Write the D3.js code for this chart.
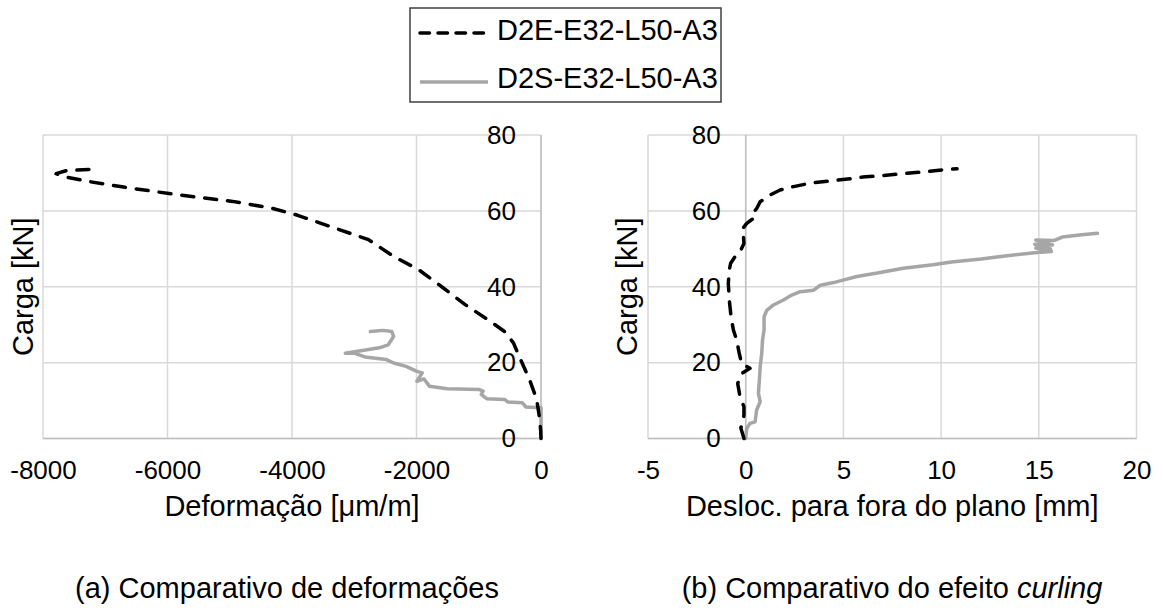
<!DOCTYPE html>
<html>
<head>
<meta charset="utf-8">
<script src="https://cdn.jsdelivr.net/npm/d3@7"></script>
<style>
  body { margin: 0; background: #fff; }
  svg { display: block; }
  text { font-family: Arial, "Liberation Sans", Helvetica, sans-serif; fill: #000; }
</style>
</head>
<body>
<svg id="chart" width="1163" height="614"></svg>
<script>
// Series names
const seriesNames = ["D2E-E32-L50-A3", "D2S-E32-L50-A3"];

// Tick values
const loadTicks = [0, 20, 40, 60, 80];
const strainTicks = [-8000, -6000, -4000, -2000, 0];
const dispTicks = [-5, 0, 5, 10, 15, 20];

// (a) strain [µm/m] vs load [kN]
const d2eStrain = [
  [0, 0], [-5, 2], [-20, 5], [-69, 10.3], [-184, 15.5], [-328, 20.8], [-443, 25.2],
  [-586, 28.2], [-816, 30.9], [-1218, 35.3], [-1563, 39.6], [-1966, 44.5], [-2368, 48],
  [-2770, 52.4], [-3230, 55], [-3920, 58.9], [-4322, 60.7], [-4954, 62.5], [-5816, 64.2],
  [-6678, 66.2], [-7253, 67.7], [-7626, 68.9], [-7790, 69.8], [-7626, 70.6], [-7167, 71]
];
const d2sStrain = [
  [0, 0], [0, 8.1], [-241, 8.3], [-299, 9.4], [-529, 9.6], [-586, 10.3], [-874, 10.5],
  [-960, 11.6], [-931, 12.5], [-989, 12.9], [-1506, 13.1], [-1793, 13.8], [-1879, 15.7],
  [-1994, 15.1], [-1908, 17.3], [-1994, 17.7], [-2167, 19.0], [-2368, 19.9], [-2483, 20.8],
  [-2828, 21.5], [-3000, 22.5], [-3144, 22.5], [-2943, 23.0], [-2598, 23.9], [-2454, 24.7],
  [-2368, 26.9], [-2397, 28.2], [-2540, 28.5], [-2741, 28.2]
];

// (b) out-of-plane displacement [mm] vs load [kN]
const d2eDisp = [
  [-0.09, 0], [-0.25, 2.8], [-0.15, 4.1], [-0.09, 6.3], [-0.09, 8.4], [-0.29, 11],
  [-0.41, 14.5], [-0.21, 17.1], [0.22, 18.5], [-0.21, 19.8], [-0.33, 22.4], [-0.46, 25.9],
  [-0.63, 28.6], [-0.75, 32.1], [-0.84, 36.5], [-0.89, 40.9], [-0.84, 44.4], [-0.77, 46.2],
  [-0.55, 47.9], [-0.29, 49.2], [-0.09, 51.4], [-0.12, 53.6], [-0.21, 54.9], [0.05, 56.7],
  [0.39, 58], [0.31, 58.9], [0.57, 60.7], [0.74, 62.4], [1.25, 64.2], [1.76, 65.5],
  [2.45, 66.4], [3.3, 67.3], [4.84, 68.2], [5.6, 68.6], [5.98, 68.9], [6.74, 69.2],
  [8.25, 69.9], [9.39, 70.4], [10.06, 70.8], [10.82, 71.1]
];
const d2sDisp = [
  [0, 0], [0.05, 2.6], [0.22, 4], [0.48, 4.4], [0.56, 7.5], [0.74, 9.7], [0.65, 11.9],
  [0.7, 15.4], [0.74, 18.9], [0.82, 22.4], [0.86, 25.9], [0.94, 28.6], [0.94, 32.1],
  [1.08, 33.8], [1.42, 35.2], [1.93, 36.5], [2.36, 37.8], [2.79, 38.7], [3.48, 39.1],
  [3.82, 40.4], [4.5, 41.1], [5.03, 41.8], [5.69, 42.7], [6.74, 43.6], [8.06, 44.9],
  [9.58, 45.8], [10.53, 46.5], [12.05, 47.3], [13.38, 48.2], [14.9, 49], [15.65, 49.3],
  [14.85, 50.2], [15.6, 50.0], [14.8, 51.2], [15.7, 51.0], [14.85, 52.3], [15.8, 52.2],
  [16.2, 53.1], [17.2, 53.7], [18.0, 54.1]
];

const svg = d3.select("#chart");

const BLACK = "#000000";
const GRAY = "#a6a6a6";
const GRID = "#d9d9d9";
const AXIS = "#bfbfbf";

const panels = [
  {
    left: 43, right: 541, xDomain: [-8000, 0], xTicks: strainTicks,
    dashed: d2eStrain, solid: d2sStrain,
    xTitle: "Deformação [μm/m]", yTitleX: 33,
    caption: [{ t: "(a) Comparativo de deformações" }], captionX: 287
  },
  {
    left: 648, right: 1136.5, xDomain: [-5, 20], xTicks: dispTicks,
    dashed: d2eDisp, solid: d2sDisp,
    xTitle: "Desloc. para fora do plano [mm]", yTitleX: 637,
    caption: [{ t: "(b) Comparativo do efeito " }, { t: "curling", italic: true }], captionX: 892
  }
];

const plotTop = 135, plotBottom = 438.5;
const plainNumber = d => String(d);

panels.forEach(p => {
  const x = d3.scaleLinear().domain(p.xDomain).range([p.left, p.right]);
  const y = d3.scaleLinear().domain([0, 80]).range([plotBottom, plotTop]);
  const g = svg.append("g");

  // gridlines
  g.selectAll("line.vgrid").data(p.xTicks).join("line")
    .attr("x1", d => x(d)).attr("x2", d => x(d))
    .attr("y1", y(0)).attr("y2", y(80))
    .attr("stroke", GRID).attr("stroke-width", 1.5);
  g.selectAll("line.hgrid").data(loadTicks).join("line")
    .attr("x1", x(p.xDomain[0])).attr("x2", x(p.xDomain[1]))
    .attr("y1", d => y(d)).attr("y2", d => y(d))
    .attr("stroke", GRID).attr("stroke-width", 1.5);

  // axis lines through the origin
  g.append("line").attr("x1", x(0)).attr("x2", x(0)).attr("y1", y(0)).attr("y2", y(80))
    .attr("stroke", AXIS).attr("stroke-width", 1.5);
  g.append("line").attr("x1", x(p.xDomain[0])).attr("x2", x(p.xDomain[1]))
    .attr("y1", y(0)).attr("y2", y(0))
    .attr("stroke", AXIS).attr("stroke-width", 1.5);

  // x axis tick labels
  const xa = g.append("g").attr("transform", `translate(0,${y(0)})`)
    .call(d3.axisBottom(x).tickValues(p.xTicks).tickSize(0).tickPadding(22).tickFormat(plainNumber));
  xa.select(".domain").remove();
  xa.attr("font-family", null).attr("font-size", null);
  xa.selectAll("text").attr("font-size", 26).style("fill", "#000");

  // y axis tick labels, crossing at x = 0
  const ya = g.append("g").attr("transform", `translate(${x(0)},0)`)
    .call(d3.axisLeft(y).tickValues(loadTicks).tickSize(0).tickPadding(25).tickFormat(plainNumber));
  ya.select(".domain").remove();
  ya.attr("font-family", null).attr("font-size", null);
  ya.selectAll("text").attr("font-size", 26).style("fill", "#000");

  // series
  const line = d3.line().x(d => x(d[0])).y(d => y(d[1]));
  g.append("path").datum(p.solid).attr("d", line)
    .attr("fill", "none").attr("stroke", GRAY).attr("stroke-width", 3.5)
    .attr("stroke-linejoin", "round").attr("stroke-linecap", "round");
  g.append("path").datum(p.dashed).attr("d", line)
    .attr("fill", "none").attr("stroke", BLACK).attr("stroke-width", 3.5)
    .attr("stroke-dasharray", "12 11").attr("stroke-linecap", "round")
    .attr("stroke-linejoin", "round");

  // axis titles
  g.append("text").attr("x", (p.left + p.right) / 2).attr("y", 516)
    .attr("text-anchor", "middle").attr("font-size", 29).text(p.xTitle);
  g.append("text")
    .attr("transform", `translate(${p.yTitleX},${(plotTop + plotBottom) / 2}) rotate(-90)`)
    .attr("text-anchor", "middle").attr("font-size", 29).text("Carga [kN]");

  // caption
  const cap = g.append("text").attr("x", p.captionX).attr("y", 598)
    .attr("text-anchor", "middle").attr("font-size", 29);
  p.caption.forEach(c => {
    cap.append("tspan").attr("font-style", c.italic ? "italic" : null).text(c.t);
  });
});

// legend
const lg = svg.append("g");
lg.append("rect").attr("x", 410).attr("y", 8).attr("width", 311).attr("height", 94)
  .attr("fill", "#fff").attr("stroke", "#404040").attr("stroke-width", 1.5);
const legendRows = [
  { name: seriesNames[0], color: BLACK, dash: "9.5 8.5", cy: 33, base: 40 },
  { name: seriesNames[1], color: GRAY, dash: null, cy: 82, base: 88 }
];
legendRows.forEach(r => {
  lg.append("line").attr("x1", 420).attr("x2", 488).attr("y1", r.cy).attr("y2", r.cy)
    .attr("stroke", r.color).attr("stroke-width", 3.5)
    .attr("stroke-dasharray", r.dash).attr("stroke-linecap", r.dash ? "round" : "butt");
  lg.append("text").attr("x", 497).attr("y", r.base).attr("font-size", 29).text(r.name);
});
</script>
</body>
</html>
